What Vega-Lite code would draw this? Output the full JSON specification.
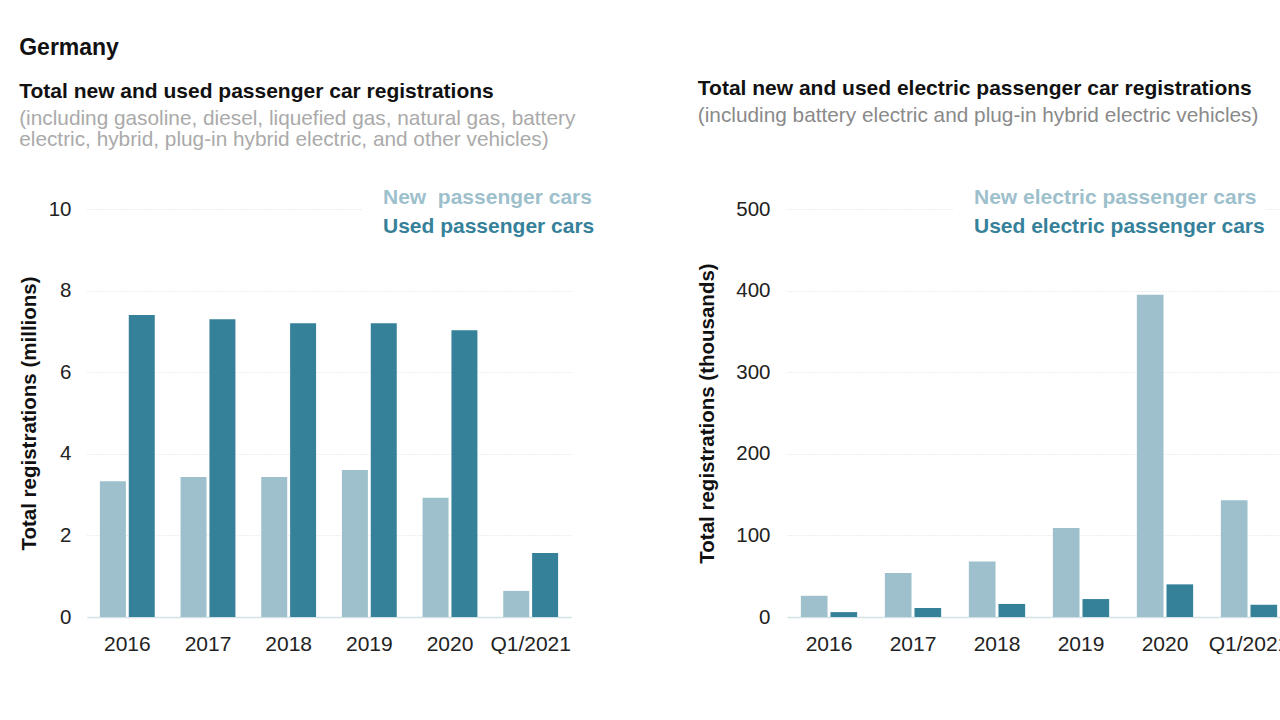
{
  "$schema": "https://vega.github.io/schema/vega-lite/v6.json",
  "background": "white",
  "padding": {"left": 19, "top": 37, "right": 0, "bottom": 0},
  "title": {"text": "Germany", "anchor": "start", "frame": "bounds", "fontSize": 23, "fontWeight": "bold", "font": "Liberation Sans", "color": "#111", "offset": 18},
  "config": {
    "font": "Liberation Sans",
    "view": {"stroke": null},
    "axis": {"labelFont": "Liberation Sans", "titleFont": "Liberation Sans", "labelColor": "#222", "titleColor": "#111"},
    "legend": {"labelFont": "Liberation Sans"}
  },
  "spacing": 102,
  "hconcat": [
    {
      "width": 484,
      "height": 408,
      "title": {
        "text": "Total new and used passenger car registrations",
        "subtitle": ["(including gasoline, diesel, liquefied gas, natural gas, battery", "electric, hybrid, plug-in hybrid electric, and other vehicles)"],
        "anchor": "start", "frame": "bounds", "fontSize": 21, "fontWeight": "bold", "color": "#111",
        "subtitleColor": "#aaaaaa", "subtitleFontSize": 20.8, "subtitleLineHeight": 21, "subtitlePadding": 7, "offset": 37
      },
      "data": {"values": [
        {"period": "2016", "series": "New  passenger cars", "value": 3.33},
        {"period": "2016", "series": "Used passenger cars", "value": 7.40},
        {"period": "2017", "series": "New  passenger cars", "value": 3.43},
        {"period": "2017", "series": "Used passenger cars", "value": 7.30},
        {"period": "2018", "series": "New  passenger cars", "value": 3.43},
        {"period": "2018", "series": "Used passenger cars", "value": 7.20},
        {"period": "2019", "series": "New  passenger cars", "value": 3.60},
        {"period": "2019", "series": "Used passenger cars", "value": 7.20},
        {"period": "2020", "series": "New  passenger cars", "value": 2.92},
        {"period": "2020", "series": "Used passenger cars", "value": 7.03},
        {"period": "Q1/2021", "series": "New  passenger cars", "value": 0.64},
        {"period": "Q1/2021", "series": "Used passenger cars", "value": 1.57}
      ]},
      "mark": {"type": "bar"},
      "encoding": {
        "x": {"field": "period", "type": "nominal", "sort": null,
          "scale": {"paddingInner": 0.32, "paddingOuter": 0.16},
          "axis": {"title": null, "labelAngle": 0, "labelFontSize": 21, "labelPadding": 16, "ticks": false, "domain": true, "domainColor": "#d3e2e6", "domainWidth": 1.5}},
        "xOffset": {"field": "series", "type": "nominal", "scale": {"paddingInner": 0.1, "paddingOuter": 0}},
        "y": {"field": "value", "type": "quantitative",
          "scale": {"domain": [0, 10], "nice": false},
          "axis": {"title": "Total registrations (millions)", "titleFontSize": 20.5, "titleFontWeight": "bold", "titlePadding": 9,
            "values": [0, 2, 4, 6, 8, 10], "labelFontSize": 20.5, "labelPadding": 16, "ticks": false, "domain": false,
            "grid": true, "gridColor": "#dddddd", "gridDash": [1, 2], "gridWidth": 1}},
        "color": {"field": "series", "type": "nominal",
          "scale": {"domain": ["New  passenger cars", "Used passenger cars"], "range": ["#9dc0cc", "#36819a"]},
          "legend": {"title": null, "orient": "none", "legendX": 275, "legendY": -22, "fillColor": "white", "padding": 0,
            "symbolOpacity": 0, "symbolSize": 0, "symbolStrokeWidth": 0, "labelOffset": 0, "labelFontSize": 21, "labelFontWeight": "bold", "rowPadding": 7,
            "labelLimit": 400,
            "labelExpr": "replace(datum.label, '  ', '\u00a0 ')",
            "encode": {"labels": {"update": {"fill": {"signal": "datum.index === 0 ? '#9dc0cc' : '#36819a'"}}}}}}
      }
    },
    {
      "width": 504,
      "height": 408,
      "title": {
        "text": "Total new and used electric passenger car registrations",
        "subtitle": ["(including battery electric and plug-in hybrid electric vehicles)"],
        "anchor": "start", "frame": "bounds", "fontSize": 21, "fontWeight": "bold", "color": "#111",
        "subtitleColor": "#8a8a8a", "subtitleFontSize": 20.8, "subtitleLineHeight": 21, "subtitlePadding": 7, "offset": 61
      },
      "data": {"values": [
        {"period": "2016", "series": "New electric passenger cars", "value": 26},
        {"period": "2016", "series": "Used electric passenger cars", "value": 6},
        {"period": "2017", "series": "New electric passenger cars", "value": 54},
        {"period": "2017", "series": "Used electric passenger cars", "value": 11},
        {"period": "2018", "series": "New electric passenger cars", "value": 68},
        {"period": "2018", "series": "Used electric passenger cars", "value": 16},
        {"period": "2019", "series": "New electric passenger cars", "value": 109},
        {"period": "2019", "series": "Used electric passenger cars", "value": 22},
        {"period": "2020", "series": "New electric passenger cars", "value": 395},
        {"period": "2020", "series": "Used electric passenger cars", "value": 40},
        {"period": "Q1/2021", "series": "New electric passenger cars", "value": 143},
        {"period": "Q1/2021", "series": "Used electric passenger cars", "value": 15}
      ]},
      "mark": {"type": "bar"},
      "encoding": {
        "x": {"field": "period", "type": "nominal", "sort": null,
          "scale": {"paddingInner": 0.33, "paddingOuter": 0.165},
          "axis": {"title": null, "labelAngle": 0, "labelFontSize": 21, "labelPadding": 16, "ticks": false, "domain": true, "domainColor": "#d3e2e6", "domainWidth": 1.5}},
        "xOffset": {"field": "series", "type": "nominal", "scale": {"paddingInner": 0.1, "paddingOuter": 0}},
        "y": {"field": "value", "type": "quantitative",
          "scale": {"domain": [0, 500], "nice": false},
          "axis": {"title": "Total registrations (thousands)", "titleFontSize": 20.5, "titleFontWeight": "bold", "titlePadding": 18,
            "values": [0, 100, 200, 300, 400, 500], "labelFontSize": 20.5, "labelPadding": 17, "ticks": false, "domain": false,
            "grid": true, "gridColor": "#dddddd", "gridDash": [1, 2], "gridWidth": 1}},
        "color": {"field": "series", "type": "nominal",
          "scale": {"domain": ["New electric passenger cars", "Used electric passenger cars"], "range": ["#9dc0cc", "#36819a"]},
          "legend": {"title": null, "orient": "none", "legendX": 166, "legendY": -22, "fillColor": "white", "padding": 0,
            "symbolOpacity": 0, "symbolSize": 0, "symbolStrokeWidth": 0, "labelOffset": 0, "labelFontSize": 21, "labelFontWeight": "bold", "rowPadding": 7,
            "labelLimit": 400,
            "encode": {"labels": {"update": {"fill": {"signal": "datum.index === 0 ? '#9dc0cc' : '#36819a'"}}}}}}
      }
    }
  ],
  "resolve": {"scale": {"color": "independent", "y": "independent", "x": "independent", "xOffset": "independent"}, "legend": {"color": "independent"}}
}
